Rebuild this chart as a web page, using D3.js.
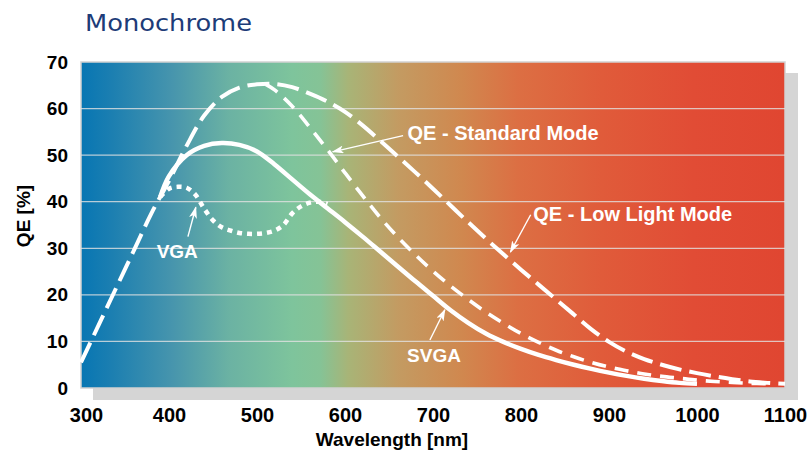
<!DOCTYPE html>
<html>
<head>
<meta charset="utf-8">
<script src="https://cdn.jsdelivr.net/npm/d3@7"></script>
<style>
  body { margin: 0; background: #fff; }
  svg text { font-family: "Liberation Sans", Arial, sans-serif; }
</style>
</head>
<body>
<script>
const svgWidth = 811;
const svgHeight = 451;

// tick labels
const xTicks = [300, 400, 500, 600, 700, 800, 900, 1000, 1100];
const yTicks = [0, 10, 20, 30, 40, 50, 60, 70];
const gridValues = [10, 20, 30, 40, 50, 60];

// QE - Low Light Mode (long dashes), [wavelength nm, QE %]
const lowLightNm = [300, 320, 340, 360, 380, 400, 420, 440, 460, 480, 500, 520, 540, 560, 580, 600, 620, 640, 660, 680, 700,
  720, 740, 760, 780, 800, 820, 840, 860, 880, 900, 920, 940, 960, 980, 1000, 1020, 1040, 1060, 1080, 1100];
const lowLightQE = [5.5, 13.5, 21.5, 29.5, 37.5, 44.5, 52, 58.5, 62.5, 64.5, 65.2, 65.3, 64.6, 63.2, 61.5, 59.3, 56.4, 53.1, 49.7, 46.3, 42.8,
  39.2, 35.6, 32.1, 28.7, 25.4, 22.2, 19, 15.8, 12.6, 9.9, 7.8, 6.2, 5, 4, 3.2, 2.5, 1.9, 1.4, 1.1, 0.9];

// QE - Standard Mode (shorter dashes), leaves the low light curve after the peak
const standardNm = [510, 520, 540, 560, 580, 600, 620, 640, 660, 680, 700, 720, 740, 760, 780, 800, 820, 840, 860, 880, 900,
  920, 940, 960, 980, 1000, 1020, 1040, 1060, 1080];
const standardQE = [65.2, 64, 60.5, 56, 51.2, 46.2, 41.3, 36.6, 32.4, 28.6, 25.1, 21.9, 19, 16.3, 13.9, 11.7, 9.8, 8.1, 6.7, 5.5, 4.5,
  3.7, 3, 2.5, 2.1, 1.7, 1.4, 1.2, 1, 0.9];

// SVGA (solid)
const svgaNm = [390, 400, 420, 440, 460, 480, 500, 520, 540, 560, 580, 600, 620, 640, 660, 680, 700, 720, 740, 760, 780,
  800, 820, 840, 860, 880, 900, 920, 940, 960, 980, 1000];
const svgaQE = [41, 45.5, 50, 52, 52.6, 52.2, 50.8, 48, 44.8, 41.6, 38.6, 35.6, 32.5, 29.3, 26.1, 22.9, 19.8, 16.7, 14, 11.7, 9.9,
  8.4, 7.1, 6, 5, 4.1, 3.3, 2.6, 2, 1.5, 1.1, 0.9];

// VGA (dotted)
const vgaNm = [390, 400, 410, 420, 430, 440, 450, 460, 470, 480, 490, 500, 510, 520, 530, 540, 550, 560, 570, 580];
const vgaQE = [41, 42.8, 43.2, 43, 41.5, 38.5, 36, 34.5, 33.8, 33.3, 33.1, 33.1, 33.3, 33.8, 35, 37.5, 39, 39.8, 40, 39.5];

// background spectrum colours, left to right
const spectrumColors = ['#0776b3', '#1a7eb1', '#4795ad', '#6bb2a3', '#7ec49c', '#85c396', '#a8b477', '#c39b62',
  '#d0884f', '#dc6f43', '#e05b3a', '#e14c35', '#e04631'];
const spectrumOffsets = [0, 0.04, 0.13, 0.21, 0.3, 0.34, 0.38, 0.45, 0.54, 0.62, 0.74, 0.87, 1];

const plot = {left: 81, right: 785, top: 62, bottom: 388};

const svg = d3.select('body')
              .append('svg')
              .attr('width', svgWidth)
              .attr('height', svgHeight);

const x = d3.scaleLinear().domain([300, 1100]).range([plot.left, plot.right]);
const y = d3.scaleLinear().domain([0, 70]).range([plot.bottom, plot.top]);

const defs = svg.append('defs');

const grad = defs.append('linearGradient')
                 .attr('id', 'spectrum')
                 .attr('x1', '0%').attr('x2', '100%')
                 .attr('y1', '0%').attr('y2', '0%');
grad.selectAll('stop')
    .data(spectrumColors)
    .enter().append('stop')
    .attr('offset', (d, i) => spectrumOffsets[i])
    .attr('stop-color', d => d);

defs.append('marker')
    .attr('id', 'arrow')
    .attr('viewBox', '0 0 12 8')
    .attr('refX', 11).attr('refY', 4)
    .attr('markerWidth', 12).attr('markerHeight', 8)
    .attr('markerUnits', 'userSpaceOnUse')
    .attr('orient', 'auto')
  .append('path')
    .attr('d', 'M0,0 L12,4 L0,8 L3,4 Z')
    .attr('fill', '#fff');

// title
svg.append('text')
   .attr('x', 85)
   .attr('y', 31)
   .attr('textLength', 167)
   .attr('lengthAdjust', 'spacingAndGlyphs')
   .style('font-family', '"DejaVu Sans", sans-serif')
   .style('font-size', '23px')
   .attr('fill', '#1d3c78')
   .text('Monochrome');

// drop shadow and plot background
const pw = plot.right - plot.left;
const ph = plot.bottom - plot.top;
svg.append('rect')
   .attr('x', plot.left + 12).attr('y', plot.top + 11)
   .attr('width', pw + 1).attr('height', ph + 1)
   .attr('fill', '#d5d5d5');
svg.append('rect')
   .attr('x', plot.left).attr('y', plot.top)
   .attr('width', pw).attr('height', ph)
   .attr('fill', 'url(#spectrum)')
   .attr('stroke', '#d2d2d2')
   .attr('stroke-width', 1.5);

// grid lines
svg.append('g')
   .selectAll('line')
   .data(gridValues)
   .enter().append('line')
   .attr('x1', plot.left).attr('x2', plot.right)
   .attr('y1', d => y(d)).attr('y2', d => y(d))
   .attr('stroke', '#e2e2e2')
   .attr('stroke-opacity', 0.8)
   .attr('stroke-width', 1.2);

// axes
const yAxis = svg.append('g')
   .attr('transform', `translate(${plot.left},0)`)
   .call(d3.axisLeft(y).tickValues(yTicks).tickSize(0).tickPadding(13));
const xAxis = svg.append('g')
   .attr('transform', `translate(0,${plot.bottom})`)
   .call(d3.axisBottom(x).tickValues(xTicks).tickSize(0).tickPadding(20).tickFormat(d3.format('d')));
[xAxis, yAxis].forEach(g => {
  g.select('.domain').remove();
  g.selectAll('text')
   .attr('fill', '#000')
   .style('font-family', '"Liberation Sans", Arial, sans-serif')
   .style('font-weight', 'bold');
});
yAxis.selectAll('text').style('font-size', '19px');
xAxis.selectAll('text').style('font-size', '20px');
// first label sits a little inside the plot edge
xAxis.selectAll('.tick').filter(d => d === 300).select('text').attr('dx', 5);

svg.append('text')
   .attr('x', 392).attr('y', 446)
   .attr('text-anchor', 'middle')
   .style('font-size', '19px').style('font-weight', 'bold')
   .text('Wavelength [nm]');
svg.append('text')
   .attr('transform', 'translate(30,216) rotate(-90)')
   .attr('text-anchor', 'middle')
   .style('font-size', '19px').style('font-weight', 'bold')
   .text('QE [%]');

// curves
const line = d3.line()
               .x(d => x(d[0]))
               .y(d => y(d[1]))
               .curve(d3.curveCatmullRom);

const series = [
  {nm: lowLightNm, qe: lowLightQE, dash: '22,8', width: 4},
  {nm: standardNm, qe: standardQE, dash: '14,9', width: 3.6},
  {nm: vgaNm, qe: vgaQE, dash: '5,5', width: 4.5},
  {nm: svgaNm, qe: svgaQE, dash: null, width: 4.5}
];

svg.append('g')
   .selectAll('path')
   .data(series)
   .enter().append('path')
   .attr('d', s => line(s.nm.map((n, i) => [n, s.qe[i]])))
   .attr('fill', 'none')
   .attr('stroke', '#fff')
   .attr('stroke-width', s => s.width)
   .attr('stroke-dasharray', s => s.dash);

// annotations, placed in data units
const notes = [
  {text: 'QE - Standard Mode', at: [671, 53.3], from: [666, 54.2], to: [586, 50.7], size: 20},
  {text: 'QE - Low Light Mode', at: [814, 35.9], from: [811, 37.2], to: [788, 29.2], size: 20},
  {text: 'VGA', at: [386, 27.9], from: [421.5, 32.5], to: [430.5, 38.8], size: 19},
  {text: 'SVGA', at: [670.5, 5.6], from: [696.5, 10.3], to: [713.5, 16.8], size: 19}
];

const ann = svg.append('g');
ann.selectAll('line')
   .data(notes)
   .enter().append('line')
   .attr('x1', d => x(d.from[0])).attr('y1', d => y(d.from[1]))
   .attr('x2', d => x(d.to[0])).attr('y2', d => y(d.to[1]))
   .attr('stroke', '#fff')
   .attr('stroke-width', 1.4)
   .attr('marker-end', 'url(#arrow)');
ann.selectAll('text')
   .data(notes)
   .enter().append('text')
   .attr('x', d => x(d.at[0])).attr('y', d => y(d.at[1]))
   .attr('fill', '#fff')
   .style('font-size', d => d.size + 'px')
   .style('font-weight', 'bold')
   .text(d => d.text);
</script>
</body>
</html>
